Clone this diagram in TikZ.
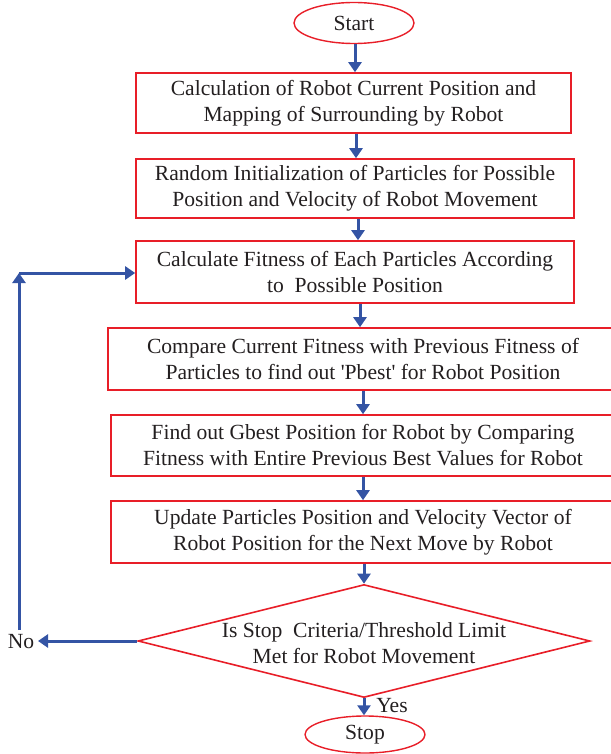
\documentclass[tikz,border=0pt]{standalone}
\usepackage{fontspec}
\setmainfont[Ligatures=TeXOff]{Liberation Serif}
\usetikzlibrary{shapes.geometric,arrows.meta}
\definecolor{fred}{RGB}{232,30,40}
\definecolor{fblue}{RGB}{52,84,164}
\definecolor{ftext}{RGB}{35,31,32}
\begin{document}
\begin{tikzpicture}[x=1pt,y=-1pt,
  every node/.style={font=\fontsize{21.6}{26}\selectfont, text=ftext},
  box/.style={draw=fred, line width=1.6pt, rectangle, align=center, inner sep=0pt},
  term/.style={draw=fred, line width=1.4pt, ellipse, inner sep=0pt, minimum width=120pt},
  dia/.style={draw=fred, line width=1.6pt, diamond, inner sep=0pt, aspect=4, minimum width=452pt, minimum height=113pt},
  arr/.style={draw=fblue, line width=3pt, -{Triangle[length=10pt,width=13pt]}}]
\useasboundingbox (0,0) rectangle (610,754);
\node[term, minimum height=41pt] (start) at (354,23) {Start};
\node[box, minimum width=435pt, minimum height=60pt] (b1) at (353.5,103)
  {Calculation of Robot Current Position and\\Mapping of Surrounding by Robot};
\node[box, minimum width=438pt, minimum height=59pt] (b2) at (355,188.5)
  {Random Initialization of Particles for Possible\\Position and Velocity of Robot Movement};
\node[box, minimum width=438pt, minimum height=62pt] (b3) at (355,272)
  {Calculate Fitness of Each Particles According\\to~~Possible Position};
\node[box, minimum width=510pt, minimum height=62pt] (b4) at (363,359)
  {Compare Current Fitness with Previous Fitness of\\Particles to find out 'Pbest' for Robot Position};
\node[box, minimum width=504pt, minimum height=61pt] (b5) at (363,445.5)
  {Find out Gbest Position for Robot by Comparing\\Fitness with Entire Previous Best Values for Robot};
\node[box, minimum width=504pt, minimum height=62pt] (b6) at (363,532)
  {Update Particles Position and Velocity Vector of\\Robot Position for the Next Move by Robot};
\node[dia] (d) at (364,641) {};
\node[align=center] (dt) at (364,643) {Is Stop~~Criteria/Threshold Limit\\Met for Robot Movement};
\node[term, minimum height=37pt] (stop) at (365,734.5) {Stop};
\node (no) at (21,642) {No};
\node (yes) at (392,706) {Yes};
\coordinate (nob) at (38,641);
\coordinate (lb) at (19,630);
\coordinate (lt) at (19,273);
\draw[arr] (start.south -| 355,0) -- (b1.north -| 355,0);
\draw[arr] (b1.south -| 356,0) -- (b2.north -| 356,0);
\draw[arr] (b2.south -| 358,0) -- (b3.north -| 358,0);
\draw[arr] (b3.south -| 360,0) -- (b4.north -| 360,0);
\draw[arr] (b4.south -| 363,0) -- (b5.north -| 363,0);
\draw[arr] (b5.south -| 363,0) -- (b6.north -| 363,0);
\draw[arr] (b6.south -| 364,0) -- (d.north);
\draw[arr] (d.south) -- (stop.north -| d.south);
\draw[arr] (d.west) -- (nob);
\draw[arr] (lb) -- (lt);
\draw[arr] (lt) -- (lt -| b3.west);
\end{tikzpicture}
\end{document}
